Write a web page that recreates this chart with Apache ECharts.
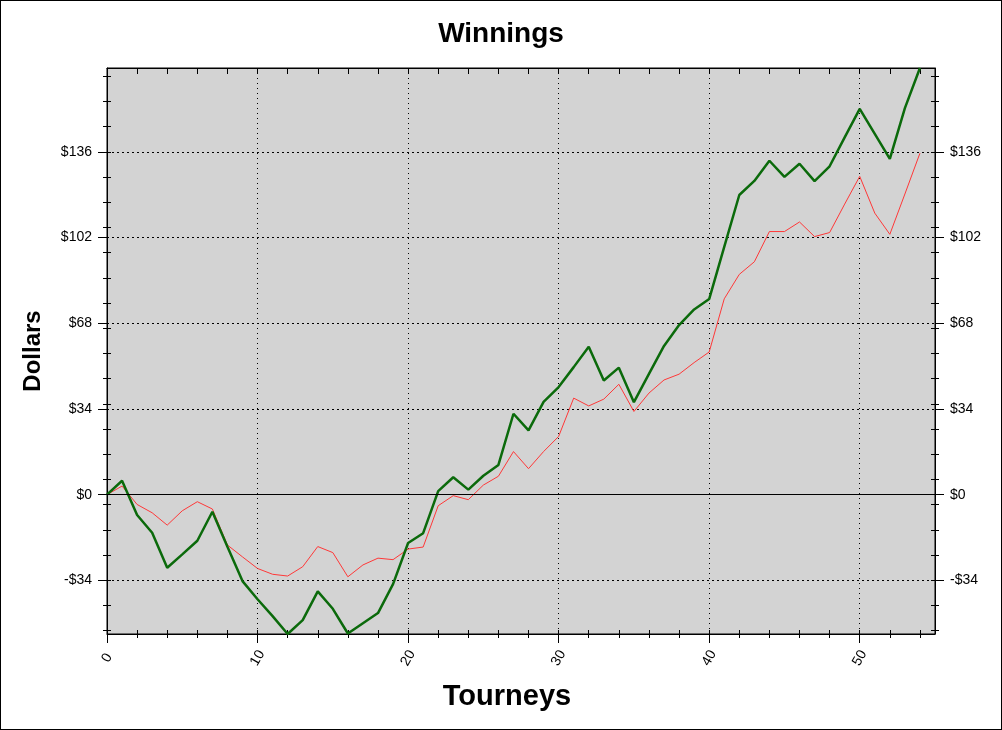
<!DOCTYPE html>
<html>
<head>
<meta charset="utf-8">
<script src="https://cdn.jsdelivr.net/npm/echarts@6/dist/echarts.min.js"></script>
<style>
  html, body { margin: 0; padding: 0; background: #fff; }
  #wrap { position: relative; width: 1002px; height: 730px; }
  #chart { position: absolute; left: 0; top: 0; width: 1002px; height: 730px; }
  #frame { position: absolute; left: 0; top: 0; width: 1002px; height: 730px; box-sizing: border-box; border: 1px solid #000; pointer-events: none; }
</style>
</head>
<body>
<div id="wrap"><div id="chart"></div><div id="frame"></div></div>
<script>
// ---- data ----
const tourneys = [0,1,2,3,4,5,6,7,8,9,10,11,12,13,14,15,16,17,18,19,20,21,22,23,24,25,26,27,28,29,30,31,32,33,34,35,36,37,38,39,40,41,42,43,44,45,46,47,48,49,50,51,52,53,54];
const greenValues = [0,5.5,-8.1,-15.1,-29.0,-23.7,-18.3,-6.8,-20.7,-34.3,-41.5,-48.2,-55.3,-49.8,-38.4,-45.3,-55.1,-51.0,-47.0,-35.5,-19.2,-15.3,1.4,6.9,2.0,7.5,11.8,32.1,25.5,36.8,42.7,50.6,58.7,45.3,50.4,36.7,47.9,59.0,67.3,73.5,77.6,98.3,118.9,124.5,132.5,126.1,131.3,124.4,130.3,141.8,153.1,143.2,133.2,153.4,169.3];
const redValues = [0,3.4,-3.9,-7.2,-12.1,-6.4,-2.8,-5.7,-20.0,-24.7,-29.3,-31.6,-32.3,-28.6,-20.6,-23.0,-32.6,-27.9,-25.2,-25.8,-21.6,-20.8,-4.4,-0.4,-2.0,3.8,7.3,17.1,10.3,17.1,23.1,38.3,35.2,37.9,43.8,33.0,40.3,45.5,47.8,52.4,56.6,77.7,87.4,92.4,104.4,104.4,108.2,102.4,104.0,115.3,126.3,111.7,103.3,119.3,135.5];
const yMajorTicks = [-34,0,34,68,102,136];
const yMinorTicks = [-54,-44,-34,-24,-14,-4,6,16,26,36,46,56,66,76,86,96,106,116,126,136,146,156,166];
const xMajorTicks = [0,10,20,30,40,50];
const xMinorTicks = [0,2,4,6,8,10,12,14,16,18,20,22,24,26,28,30,32,34,36,38,40,42,44,46,48,50,52,54];
const yMin = -55.3, yMax = 169.3, xMin = 0, xMax = 55;

const chart = echarts.init(document.getElementById('chart'), null, {renderer: 'canvas'});
const FONT = '"Liberation Sans", Arial, sans-serif';
const black = '#000';

function yAx(pos, kind) {
  const base = {
    type: 'value', position: pos, min: yMin, max: yMax,
    axisLine: {show: kind === 'major', onZero: false, lineStyle: {color: black, width: 1}},
    splitLine: {show: false},
    axisLabel: {show: false},
    axisTick: {show: true, lineStyle: {color: black, width: 1}}
  };
  if (kind === 'major') {
    base.axisTick.customValues = yMajorTicks;
    base.axisTick.length = 9;
    base.axisLabel = {
      show: true, customValues: yMajorTicks, margin: 15,
      color: black, fontFamily: FONT, fontSize: 14,
      formatter: v => (v < 0 ? '-$' + Math.abs(v) : '$' + v)
    };
    if (pos === 'left') {
      base.splitLine = {show: true, lineStyle: {color: black, type: [2, 3], width: 1}};
      base.name = 'Dollars';
      base.nameLocation = 'middle';
      base.nameRotate = 90;
      base.nameGap = 62;
      base.nameTextStyle = {fontFamily: FONT, fontWeight: 'bold', fontSize: 24, color: black};
    }
  } else {
    base.axisTick.customValues = yMinorTicks;
    base.axisTick.length = 4;
    base.axisTick.inside = (kind === 'in');
  }
  return base;
}

function xAx(pos, kind) {
  const base = {
    type: 'value', position: pos, min: xMin, max: xMax,
    axisLine: {show: kind === 'major' || kind === 'top', onZero: false, lineStyle: {color: black, width: 1}},
    splitLine: {show: false},
    axisLabel: {show: false},
    axisTick: {show: true, lineStyle: {color: black, width: 1}}
  };
  if (kind === 'major') {
    base.axisTick.customValues = xMajorTicks;
    base.axisTick.length = 9;
    base.axisLabel = {
      show: true, customValues: xMajorTicks, margin: 24, rotate: 60,
      align: 'center', verticalAlign: 'middle',
      color: black, fontFamily: FONT, fontSize: 14
    };
    base.splitLine = {show: true, lineStyle: {color: black, type: [1, 4], width: 1}};
  } else if (kind === 'top') {
    base.axisTick.customValues = xMinorTicks;
    base.axisTick.length = 6;
    base.axisTick.inside = true;
  } else {
    base.axisTick.customValues = xMinorTicks;
    base.axisTick.length = 4;
    base.axisTick.inside = (kind === 'in');
  }
  return base;
}

const option = {
  animation: false,
  backgroundColor: '#fff',
  title: [
    {text: 'Winnings', left: 'center', top: 15,
     textStyle: {fontFamily: FONT, fontWeight: 'bold', fontSize: 28, color: black}}
  ],
  graphic: [
    {type: 'text', x: 507, y: 697, silent: true,
     style: {text: 'Tourneys', align: 'center', verticalAlign: 'middle',
             font: 'bold 29px "Liberation Sans", Arial, sans-serif', fill: black}}
  ],
  grid: {left: 107, right: 67, top: 68, bottom: 96, show: true,
         backgroundColor: '#d3d3d3', borderColor: black, borderWidth: 1},
  xAxis: [xAx('bottom', 'major'), xAx('bottom', 'out'), xAx('bottom', 'in'), xAx('top', 'top')],
  yAxis: [yAx('left', 'major'), yAx('left', 'out'), yAx('left', 'in'),
          yAx('right', 'major'), yAx('right', 'out'), yAx('right', 'in')],
  series: [
    {
      name: 'Net', type: 'line', xAxisIndex: 0, yAxisIndex: 0,
      data: tourneys.map((t, i) => [t, redValues[i]]),
      showSymbol: false, symbol: 'none',
      lineStyle: {color: '#ff3838', width: 1}, z: 3,
      markLine: {
        silent: true, symbol: 'none', label: {show: false},
        lineStyle: {color: black, type: 'solid', width: 1},
        data: [{yAxis: 0}], animation: false
      }
    },
    {
      name: 'Total', type: 'line', xAxisIndex: 0, yAxisIndex: 0,
      data: tourneys.map((t, i) => [t, greenValues[i]]),
      showSymbol: false, symbol: 'none',
      lineStyle: {color: '#0b6a0b', width: 2.5}, z: 4
    }
  ]
};
chart.setOption(option);
</script>
</body>
</html>
